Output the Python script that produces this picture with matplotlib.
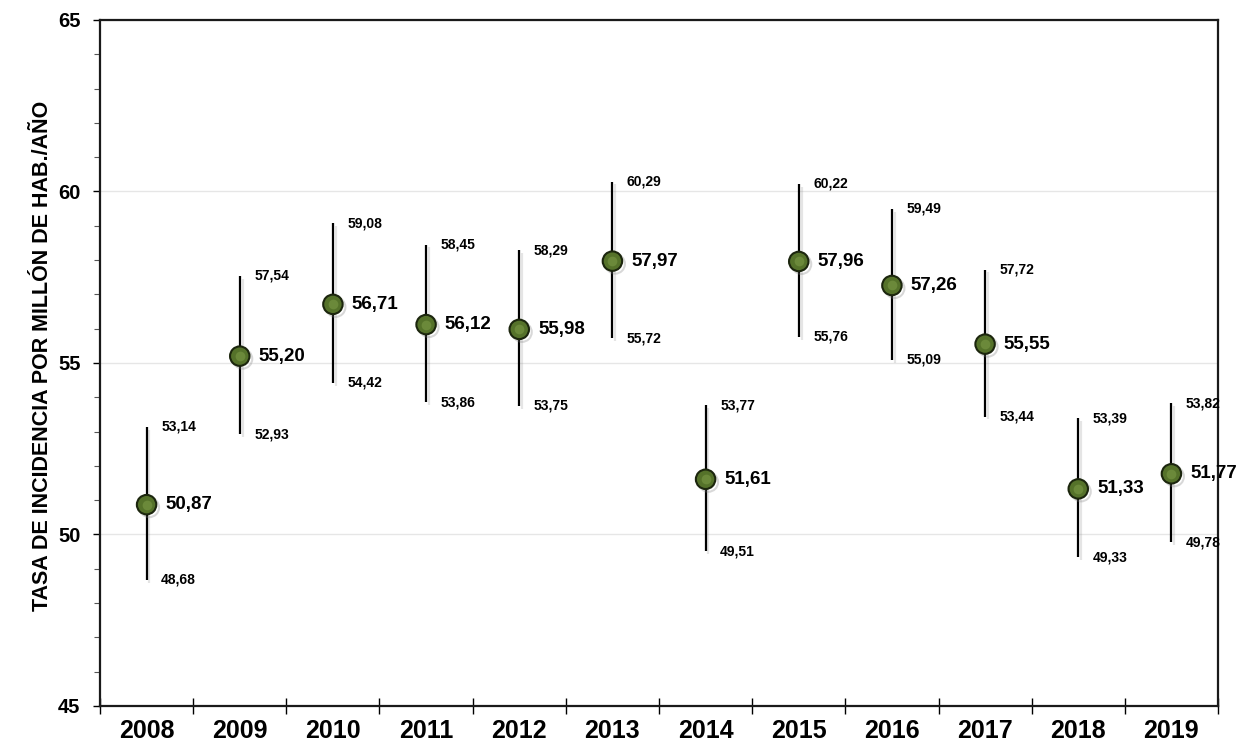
import matplotlib.pyplot as plt
import matplotlib.patheffects as pe
import numpy as np

plt.rcParams['font.family'] = ['Liberation Sans', 'DejaVu Sans']
plt.rcParams['font.weight'] = 'bold'

# data
years = ['2008', '2009', '2010', '2011', '2012', '2013', '2014', '2015', '2016', '2017', '2018', '2019']
rate = [50.87, 55.20, 56.71, 56.12, 55.98, 57.97, 51.61, 57.96, 57.26, 55.55, 51.33, 51.77]
upper = [53.14, 57.54, 59.08, 58.45, 58.29, 60.29, 53.77, 60.22, 59.49, 57.72, 53.39, 53.82]
lower = [48.68, 52.93, 54.42, 53.86, 53.75, 55.72, 49.51, 55.76, 55.09, 53.44, 49.33, 49.78]

def fmt(v):
    return f'{v:.2f}'.replace('.', ',')

fig = plt.figure(figsize=(12.44, 7.5), dpi=100)
ax = fig.add_axes([100/1244, 1 - 706/750, 1118/1244, 686/750])

x = np.arange(len(years))

# error bars with a soft shadow
ax.vlines(x, lower, upper, color='black', lw=1.6, zorder=3,
          path_effects=[pe.SimpleLineShadow(offset=(2, -2), shadow_color='gray', alpha=0.2), pe.Normal()])
# points (olive spheres)
ax.plot(x, rate, 'o', ms=14, mfc='#55722a', mec='#1c260e', mew=1.5, zorder=4,
        path_effects=[pe.SimpleLineShadow(offset=(2, -2), shadow_color='gray', alpha=0.3), pe.Normal()])
ax.plot(x, rate, 'o', ms=7, mfc='#7a9a45', mec='none', alpha=0.6, zorder=5)

for xi, r, u, l in zip(x, rate, upper, lower):
    ax.annotate(fmt(r), (xi, r), xytext=(13.5, 0), textcoords='offset points',
                ha='left', va='center', fontsize=13.5, fontweight='bold')
    ax.annotate(fmt(u), (xi, u), xytext=(10.5, 0), textcoords='offset points',
                ha='left', va='center', fontsize=10, fontweight='bold')
    ax.annotate(fmt(l), (xi, l), xytext=(10.5, 0), textcoords='offset points',
                ha='left', va='center', fontsize=10, fontweight='bold')

ax.set_xlim(-0.5, len(years) - 0.5)
ax.set_ylim(45, 65)

ax.set_yticks([45, 50, 55, 60, 65])
ax.set_yticks(np.arange(45, 66, 1), minor=True)
ax.tick_params(axis='y', which='major', direction='out', length=5, width=1, labelsize=14.5, pad=9)
ax.tick_params(axis='y', which='minor', direction='out', length=4, width=0.8, color='#555555')
ax.grid(axis='y', which='major', color='#e6e6e6', lw=1)
ax.set_axisbelow(True)

ax.set_xticks(np.arange(-0.5, len(years), 1))
ax.set_xticklabels([])
ax.set_xticks(x, minor=True)
ax.set_xticklabels(years, minor=True, fontsize=18, fontweight='bold')
ax.tick_params(axis='x', which='major', direction='inout', length=12, width=1)
ax.tick_params(axis='x', which='minor', length=0, pad=9)

for side in ['left', 'bottom', 'top', 'right']:
    ax.spines[side].set_linewidth(1.6)
    ax.spines[side].set_color('#1a1a1a')

ax.set_ylabel('TASA DE INCIDENCIA POR MILLÓN DE HAB./AÑO', fontsize=15.5, fontweight='bold')
ax.yaxis.set_label_coords(-0.042, 0.51)

fig.savefig('out.png', dpi=100)
